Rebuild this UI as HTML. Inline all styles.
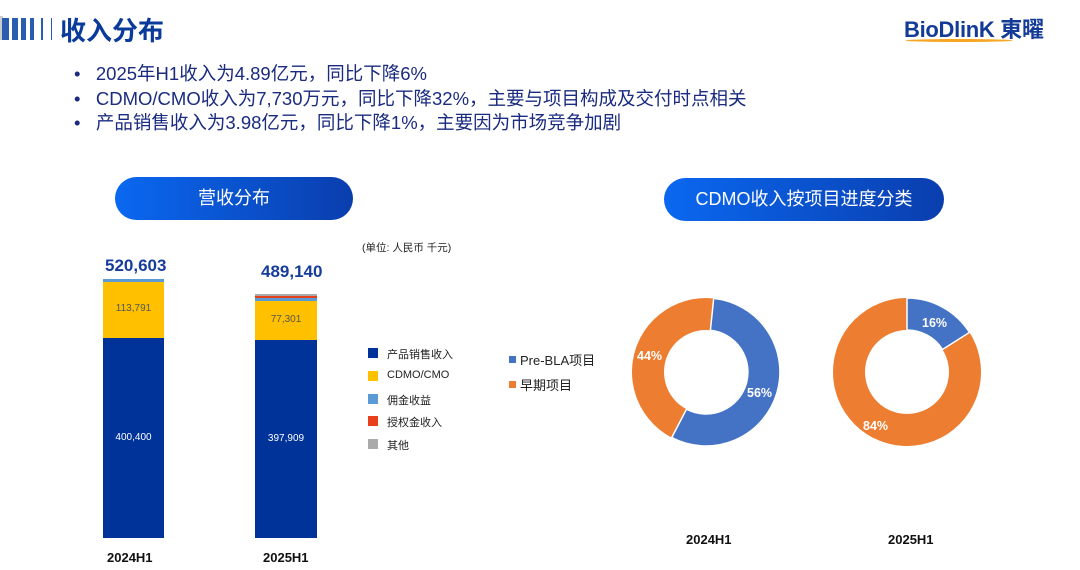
<!DOCTYPE html>
<html><head><meta charset="utf-8"><style>
body{margin:0;width:1080px;height:570px;overflow:hidden;background:#fff;font-family:"Liberation Sans","Noto Sans CJK SC",sans-serif;position:relative}
.a{position:absolute;white-space:nowrap}
.pill{position:absolute;border-radius:22px;background:linear-gradient(90deg,#0a68f0,#0a3eae);color:#fff;font-size:18px;text-align:center}
.bul{font-size:18.5px;color:#1a2b80}
.leg{font-size:11px;color:#222}
.sw{position:absolute;width:10px;height:10px}
</style></head><body>
<div class="a" style="left:0;top:16px;width:3px;height:24px;background:#ccc"></div>
<div class="a" style="left:2px;top:18px;width:7px;height:22px;background:#2a5db0"></div>
<div class="a" style="left:12px;top:18px;width:6px;height:22px;background:#2a5db0"></div>
<div class="a" style="left:21px;top:18px;width:5px;height:22px;background:#2a5db0"></div>
<div class="a" style="left:30px;top:18px;width:4px;height:22px;background:#2a5db0"></div>
<div class="a" style="left:41px;top:18px;width:2px;height:22px;background:#2a5db0"></div>
<div class="a" style="left:51px;top:18px;width:1px;height:22px;background:#2a5db0"></div>
<div class="a" style="left:60px;top:11px;font-size:26px;font-weight:bold;color:#0a3a9a">收入分布</div>
<div class="a" style="left:904px;top:12px;font-size:22px;font-weight:bold;color:#123a96;letter-spacing:-0.3px">BioDlinK 東曜</div>
<div class="a" style="left:905px;top:39px;width:108px;height:3px;border-radius:50%;background:#f5a623"></div>

<div class="a bul" style="left:74px;top:60px">•&nbsp;&nbsp;&nbsp;2025年H1收入为4.89亿元，同比下降6%</div>
<div class="a bul" style="left:74px;top:85px">•&nbsp;&nbsp;&nbsp;CDMO/CMO收入为7,730万元，同比下降32%，主要与项目构成及交付时点相关</div>
<div class="a bul" style="left:74px;top:109px">•&nbsp;&nbsp;&nbsp;产品销售收入为3.98亿元，同比下降1%，主要因为市场竞争加剧</div>

<div class="pill" style="left:115px;top:177px;width:238px;height:43px;line-height:43px">营收分布</div>
<div class="pill" style="left:664px;top:178px;width:280px;height:43px;line-height:43px">CDMO收入按项目进度分类</div>

<div class="a" style="left:362px;top:240px;font-size:10.5px;color:#222">(单位: 人民币 千元)</div>
<div class="a" style="left:105px;top:256px;font-size:17px;font-weight:bold;color:#173d9c">520,603</div>
<div class="a" style="left:261px;top:262px;font-size:17px;font-weight:bold;color:#173d9c">489,140</div>

<div class="a" style="left:103px;top:279px;width:61px;height:3px;background:#5b9bd5"></div>
<div class="a" style="left:103px;top:282px;width:61px;height:56px;background:#ffc000"></div>
<div class="a" style="left:103px;top:338px;width:61px;height:200px;background:#003399"></div>
<div class="a" style="left:103px;top:303px;width:61px;text-align:center;font-size:10px;color:#555">113,791</div>
<div class="a" style="left:103px;top:432px;width:61px;text-align:center;font-size:10px;color:#fff">400,400</div>

<div class="a" style="left:255px;top:294px;width:62px;height:2px;background:#aaa"></div>
<div class="a" style="left:255px;top:296px;width:62px;height:2px;background:#e8401c"></div>
<div class="a" style="left:255px;top:298px;width:62px;height:3px;background:#5b9bd5"></div>
<div class="a" style="left:255px;top:301px;width:62px;height:39px;background:#ffc000"></div>
<div class="a" style="left:255px;top:340px;width:62px;height:198px;background:#003399"></div>
<div class="a" style="left:255px;top:314px;width:62px;text-align:center;font-size:10px;color:#555">77,301</div>
<div class="a" style="left:255px;top:433px;width:62px;text-align:center;font-size:10px;color:#fff">397,909</div>

<div class="a" style="left:107px;top:550px;font-size:13px;font-weight:bold;color:#111">2024H1</div>
<div class="a" style="left:263px;top:550px;font-size:13px;font-weight:bold;color:#111">2025H1</div>

<div class="sw" style="left:368px;top:348px;background:#003399"></div><div class="a leg" style="left:387px;top:346px">产品销售收入</div>
<div class="sw" style="left:368px;top:371px;background:#ffc000"></div><div class="a leg" style="left:387px;top:369px">CDMO/CMO</div>
<div class="sw" style="left:368px;top:394px;background:#5b9bd5"></div><div class="a leg" style="left:387px;top:392px">佣金收益</div>
<div class="sw" style="left:368px;top:416px;background:#e8401c"></div><div class="a leg" style="left:387px;top:414px">授权金收入</div>
<div class="sw" style="left:368px;top:439px;background:#aaa"></div><div class="a leg" style="left:387px;top:437px">其他</div>

<div class="a" style="left:509px;top:356px;width:7px;height:7px;background:#4472c4"></div>
<div class="a" style="left:520px;top:350px;font-size:13px;color:#222">Pre-BLA项目</div>
<div class="a" style="left:509px;top:381px;width:7px;height:7px;background:#ed7d31"></div>
<div class="a" style="left:520px;top:375px;font-size:13px;color:#222">早期项目</div>

<svg class="a" style="left:0;top:0" width="1080" height="570">
<circle cx="706" cy="372" r="58" fill="none" stroke="#ed7d31" stroke-width="32"/>
<path d="M713.7,298.4 A74,74 0 1 1 671.7,437.6 L686.5,409.2 A42,42 0 1 0 710.4,330.2 Z" fill="#4472c4" stroke="#fff" stroke-width="1.5"/>
<circle cx="907" cy="372" r="58" fill="none" stroke="#ed7d31" stroke-width="32"/>
<path d="M907,298 A74,74 0 0 1 969.5,332.4 L942.5,349.5 A42,42 0 0 0 907,330 Z" fill="#4472c4" stroke="#fff" stroke-width="1.5"/>
<g font-family="Liberation Sans" font-weight="bold" font-size="12.5" fill="#fff">
<text x="637" y="360">44%</text><text x="747" y="397">56%</text>
<text x="922" y="327">16%</text><text x="863" y="430">84%</text>
</g>
</svg>
<div class="a" style="left:686px;top:532px;font-size:13px;font-weight:bold;color:#111">2024H1</div>
<div class="a" style="left:888px;top:532px;font-size:13px;font-weight:bold;color:#111">2025H1</div>
</body></html>
